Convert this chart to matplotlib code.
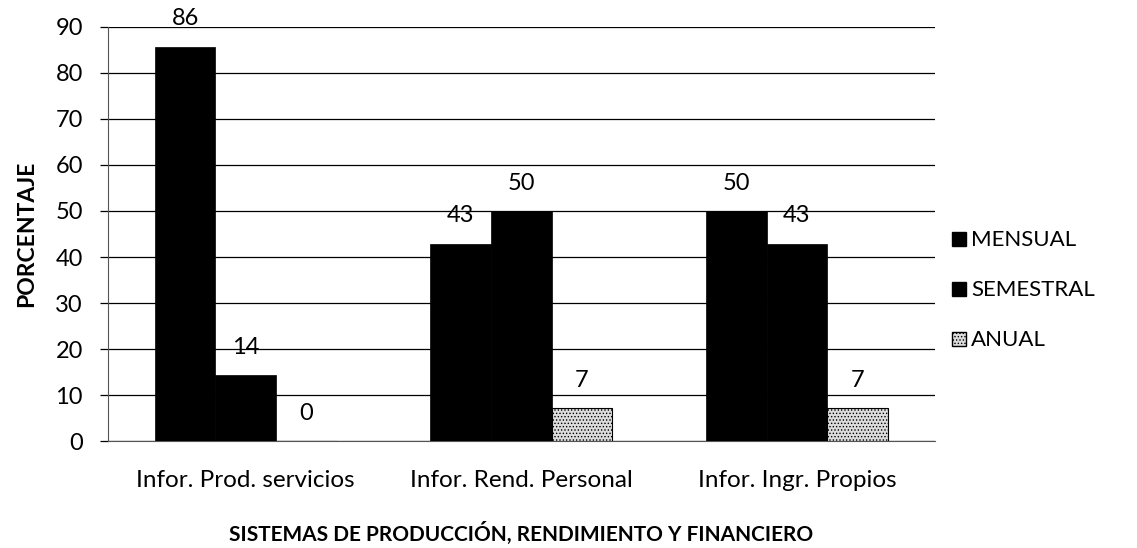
import numpy as np
import matplotlib
matplotlib.use('Agg')
import matplotlib.pyplot as plt
from matplotlib.patches import Patch

plt.rcParams['font.family'] = ['Lato', 'DejaVu Sans']
plt.rcParams['hatch.color'] = '#8c8c8c'
plt.rcParams['hatch.linewidth'] = 0.6

# data (percent)
categories = ['Infor. Prod. servicios', 'Infor. Rend. Personal', 'Infor. Ingr. Propios']
mensual = [85.7, 42.9, 50.0]
semestral = [14.3, 50.0, 42.9]
anual = [0.0, 7.1, 7.1]
series_names = ['MENSUAL', 'SEMESTRAL', 'ANUAL']

fig = plt.figure(figsize=(11.37, 5.48), dpi=100)
ax = fig.add_axes([0.095, 0.195, 0.727, 0.756])

index = np.arange(len(categories))
bar_width = 0.22

r1 = ax.bar(index - bar_width, mensual, bar_width, color='black', edgecolor='black', linewidth=0.5, zorder=3)
r2 = ax.bar(index, semestral, bar_width, color='black', edgecolor='black', linewidth=0.5, zorder=3)
r3 = ax.bar(index + bar_width, anual, bar_width, color='#dcdcdc', edgecolor='black',
            linewidth=0.8, hatch='.....', zorder=3)

def autolabel(rects):
    for rect in rects:
        h = rect.get_height()
        ax.annotate('%d' % round(h), (rect.get_x() + rect.get_width() / 2, h),
                    xytext=(0, 20), textcoords='offset points',
                    ha='center', va='center', fontsize=17, zorder=4)

autolabel(r1)
autolabel(r2)
autolabel(r3)

ax.set_xlim(-0.5, 2.5)
ax.set_ylim(0, 90)
ax.set_yticks(np.arange(0, 91, 10))
ax.yaxis.grid(True, color='black', linewidth=0.9)
ax.set_axisbelow(True)
ax.tick_params(axis='y', length=6, width=0.9, labelsize=17, pad=12)
ax.tick_params(axis='x', length=0, labelsize=17.5, pad=21)
ax.set_xticks(index)
ax.set_xticklabels(categories)

for s in ['top', 'right']:
    ax.spines[s].set_visible(False)
ax.spines['left'].set_color('#555555')
ax.spines['bottom'].set_color('#555555')

ax.set_ylabel('PORCENTAJE', fontsize=16.5, fontweight='bold', labelpad=13)
ax.set_xlabel('SISTEMAS DE PRODUCCIÓN, RENDIMIENTO Y FINANCIERO', fontsize=15,
              fontweight='bold', labelpad=22)

handles = [Patch(facecolor='black', edgecolor='black'),
           Patch(facecolor='black', edgecolor='black'),
           Patch(facecolor='#dcdcdc', edgecolor='black', hatch='.....')]
fig.legend(handles, series_names, loc='center left', bbox_to_anchor=(0.82, 0.47),
           frameon=False, fontsize=16, handlelength=0.6, handleheight=0.6,
           handletextpad=0.25, labelspacing=1.35)

plt.savefig('out.png', dpi=100)
